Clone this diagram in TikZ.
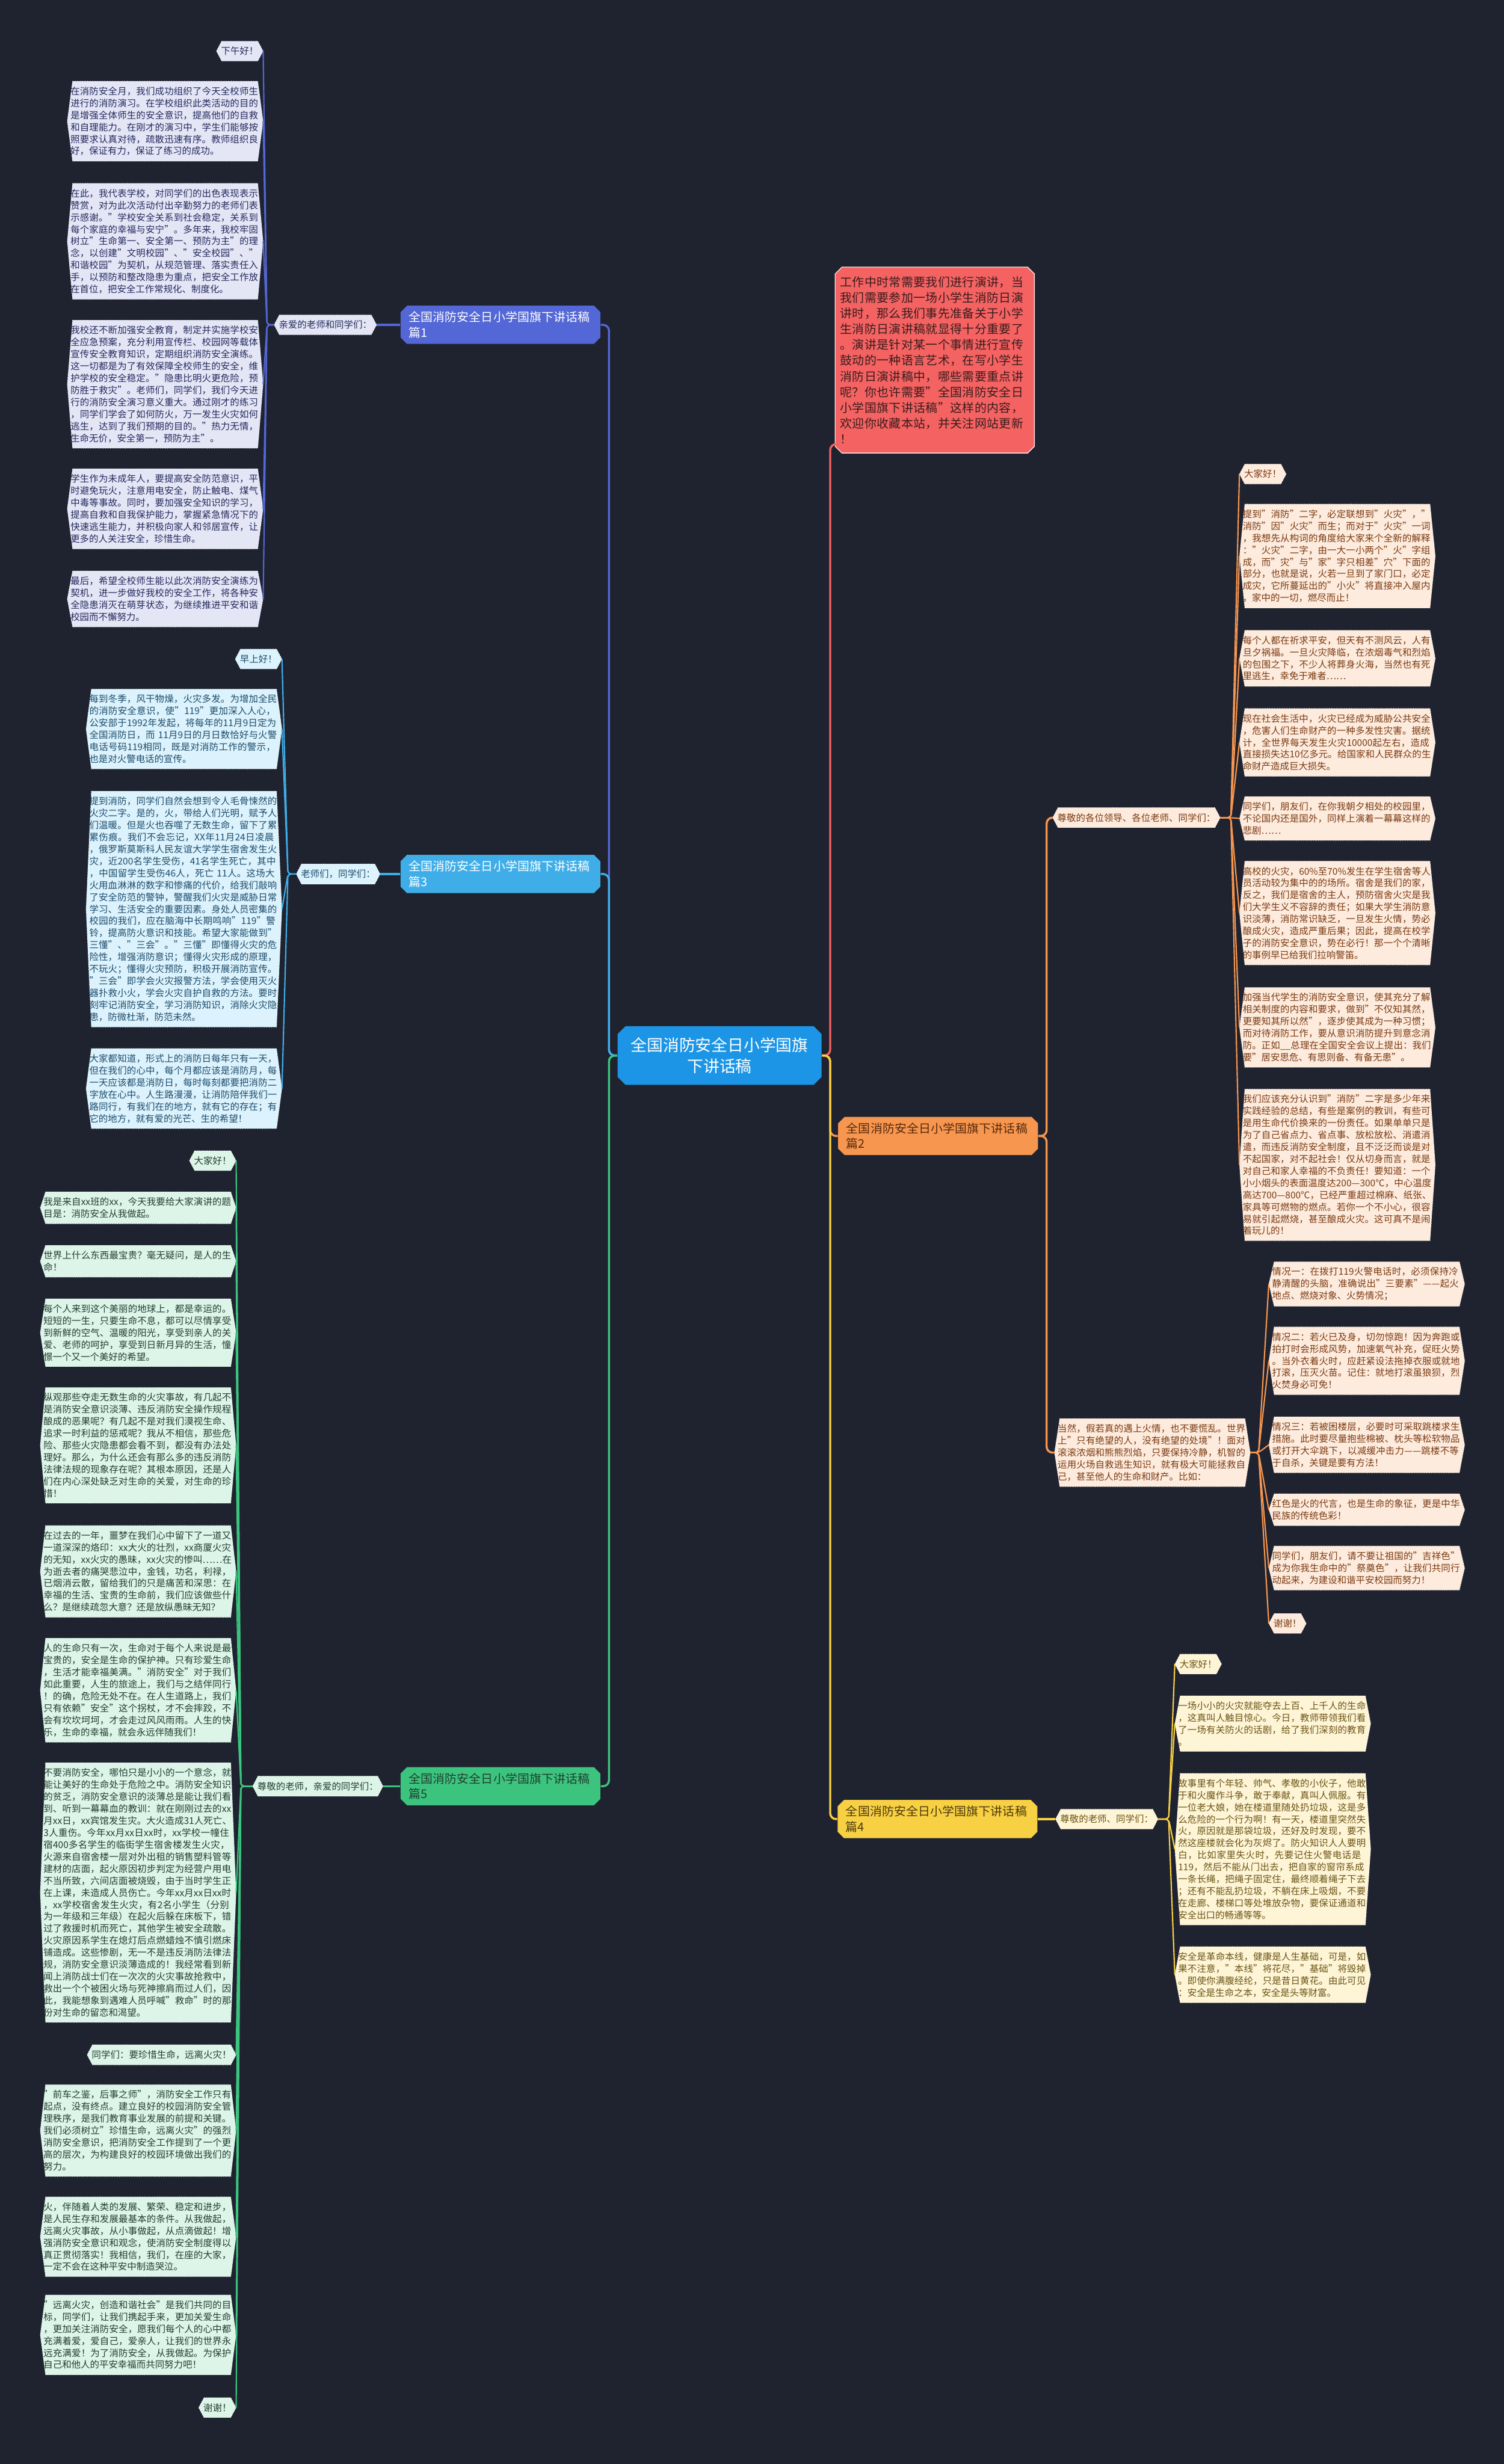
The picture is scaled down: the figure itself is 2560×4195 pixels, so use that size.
\documentclass[tikz,border=0pt]{standalone}
\usepackage{fontspec}
\setmainfont{Noto Sans CJK SC}
\XeTeXlinebreaklocale "zh"
\XeTeXlinebreakskip=0pt plus 1pt
% break anywhere between CJK characters and punctuation, as the reference does
\newXeTeXintercharclass\cjkcls
\makeatletter
\count@="3000
\loop \XeTeXcharclass\count@=\cjkcls \ifnum\count@<"303F \advance\count@\@ne \repeat
\count@="4E00
\loop \XeTeXcharclass\count@=\cjkcls \ifnum\count@<"9FFF \advance\count@\@ne \repeat
\count@="FF01
\loop \XeTeXcharclass\count@=\cjkcls \ifnum\count@<"FF5E \advance\count@\@ne \repeat
\makeatother
\XeTeXcharclass"2014=\cjkcls
\XeTeXcharclass"2026=\cjkcls
\XeTeXinterchartoks\cjkcls\cjkcls={\hskip0pt plus 0.5pt\relax}
\XeTeXinterchartoks 0 \cjkcls={\hskip0pt plus 0.5pt\relax}
\XeTeXinterchartoks\cjkcls 0={\hskip0pt plus 0.5pt\relax}
\newcommand{\cjkwrap}{\XeTeXinterchartokenstate=1\relax}
\usetikzlibrary{positioning}
\usetikzlibrary{shapes.misc}
\usetikzlibrary{backgrounds}

\definecolor{canvas}{HTML}{1F2330}
\definecolor{rootblue}{HTML}{1C95E6}
\definecolor{introred}{HTML}{F46262}
\definecolor{introink}{HTML}{3A1C1C}
\definecolor{line1}{HTML}{5467D6}
\definecolor{paper1}{HTML}{E4E6F6}
\definecolor{ink1}{HTML}{252A5C}
\definecolor{line3}{HTML}{3FAEE8}
\definecolor{paper3}{HTML}{DCF2FC}
\definecolor{ink3}{HTML}{1D4C6C}
\definecolor{line5}{HTML}{3CC47E}
\definecolor{paper5}{HTML}{DDF4E8}
\definecolor{ink5}{HTML}{213F30}
\definecolor{line2}{HTML}{F7964F}
\definecolor{paper2}{HTML}{FDEBDD}
\definecolor{ink2}{HTML}{7B3A12}
\definecolor{line4}{HTML}{F8D043}
\definecolor{paper4}{HTML}{FEF5D7}
\definecolor{ink4}{HTML}{6B5314}

\tikzstyle{root}=[chamfered rectangle, chamfered rectangle xsep=0.07cm, chamfered rectangle ysep=0.065cm, inner xsep=0.14cm, inner ysep=0.13cm, fill=rootblue, text=white, text width=3.05cm, align=flush center, font=\fontsize{7.8pt}{10pt}\selectfont]
\tikzstyle{intro}=[chamfered rectangle, chamfered rectangle xsep=0.055cm, chamfered rectangle ysep=0.06cm, inner xsep=0.03cm, inner ysep=0.1cm, fill=introred, draw=white!80!introred, line width=0.4pt, text=introink, text width=3.22cm, align=left, font=\fontsize{5.8pt}{7.6pt}\selectfont\cjkwrap]
\tikzstyle{topic}=[chamfered rectangle, chamfered rectangle xsep=0.06cm, chamfered rectangle ysep=0.05cm, inner xsep=0.08cm, inner ysep=0.05cm, text width=3.12cm, align=left, font=\fontsize{5.8pt}{7.4pt}\selectfont\cjkwrap]
\tikzstyle{leaf}=[text width=3.22cm, align=left, inner xsep=0.05cm, inner ysep=0.09cm, font=\fontsize{4.5pt}{5.8pt}\selectfont\cjkwrap]
\tikzstyle{greet}=[inner xsep=0.075cm, inner ysep=0.09cm, font=\fontsize{4.5pt}{5.8pt}\selectfont]
\tikzstyle{link}=[line width=0.035cm, rounded corners=0.1cm]
\tikzstyle{twig}=[line width=0.022cm, rounded corners=0.06cm]

% hexagon behind a leaf, tips at west and east
\newcommand{\tipw}{0.09cm}
\newcommand{\hexfill}[2]{%
  \filldraw[fill=#2, draw=white, densely dotted, line width=0.2pt]
    ([xshift=\tipw]#1.north west) -- ([xshift=-\tipw]#1.north east) -- (#1.east)
    -- ([xshift=-\tipw]#1.south east) -- ([xshift=\tipw]#1.south west) -- (#1.west) -- cycle;}

\begin{document}
\begin{tikzpicture}[x=0.01cm, y=-0.01cm]
  \useasboundingbox (0,0) rectangle (2560,4195);

  \node[root] (root) at (1225,1797) {全国消防安全日小学国旗\\下讲话稿};
  \node[intro, anchor=north west] (intro) at (1427,460) {工作中时常需要我们进行演讲，当我们需要参加一场小学生消防日演讲时，那么我们事先准备关于小学生消防日演讲稿就显得十分重要了。演讲是针对某一个事情进行宣传鼓动的一种语言艺术，在写小学生消防日演讲稿中，哪些需要重点讲呢？你也许需要"全国消防安全日小学国旗下讲话稿"这样的内容，欢迎你收藏本站，并关注网站更新！};

  % branch nodes
  \node[topic, fill=line1, text=white] (b1) at (852,553) {全国消防安全日小学国旗下讲话稿篇1};
  \node[topic, fill=line3, text=white] (b3) at (852,1488) {全国消防安全日小学国旗下讲话稿篇3};
  \node[topic, fill=line5, text=ink5] (b5) at (852,3041) {全国消防安全日小学国旗下讲话稿篇5};
  \node[topic, fill=line2, text=ink2!70!black] (b2) at (1597,1934) {全国消防安全日小学国旗下讲话稿篇2};
  \node[topic, fill=line4, text=ink4!70!black] (b4) at (1596,3097) {全国消防安全日小学国旗下讲话稿篇4};

  % salutations
  \node[greet, text=ink1, left=0.4cm of b1] (lab1) {亲爱的老师和同学们：};
  \node[greet, text=ink3, left=0.34cm of b3] (lab3) {老师们，同学们：};
  \node[greet, text=ink5, left=0.29cm of b5] (lab5) {尊敬的老师，亲爱的同学们：};
  \node[greet, text=ink2, anchor=west] (lab2) at (1792,1392) {尊敬的各位领导、各位老师、同学们：};
  \node[greet, text=ink4, right=0.3cm of b4] (lab4) {尊敬的老师、同学们：};

  % 篇1
  \node[greet, text=ink1, anchor=north east] (hi1) at (448,70) {下午好！};
  \node[leaf, text=ink1, anchor=north east] (l1a) at (448,138) {在消防安全月，我们成功组织了今天全校师生进行的消防演习。在学校组织此类活动的目的是增强全体师生的安全意识，提高他们的自救和自理能力。在刚才的演习中，学生们能够按照要求认真对待，疏散迅速有序。教师组织良好，保证有力，保证了练习的成功。};
  \node[leaf, text=ink1, anchor=north east] (l1b) at (448,312) {在此，我代表学校，对同学们的出色表现表示赞赏，对为此次活动付出辛勤努力的老师们表示感谢。"学校安全关系到社会稳定，关系到每个家庭的幸福与安宁"。多年来，我校牢固树立"生命第一、安全第一、预防为主"的理念，以创建"文明校园"、"安全校园"、"和谐校园"为契机，从规范管理、落实责任入手，以预防和整改隐患为重点，把安全工作放在首位，把安全工作常规化、制度化。};
  \node[leaf, text=ink1, anchor=north east] (l1c) at (448,545) {我校还不断加强安全教育，制定并实施学校安全应急预案，充分利用宣传栏、校园网等载体宣传安全教育知识，定期组织消防安全演练。这一切都是为了有效保障全校师生的安全，维护学校的安全稳定。"隐患比明火更危险，预防胜于救灾"。老师们，同学们，我们今天进行的消防安全演习意义重大。通过刚才的练习，同学们学会了如何防火，万一发生火灾如何逃生，达到了我们预期的目的。"热力无情，生命无价，安全第一，预防为主"。};
  \node[leaf, text=ink1, anchor=north east] (l1d) at (448,798) {学生作为未成年人，要提高安全防范意识，平时避免玩火，注意用电安全，防止触电、煤气中毒等事故。同时，要加强安全知识的学习，提高自救和自我保护能力，掌握紧急情况下的快速逃生能力，并积极向家人和邻居宣传，让更多的人关注安全，珍惜生命。};
  \node[leaf, text=ink1, anchor=north east] (l1e) at (448,972) {最后，希望全校师生能以此次消防安全演练为契机，进一步做好我校的安全工作，将各种安全隐患消灭在萌芽状态，为继续推进平安和谐校园而不懈努力。};

  % 篇3
  \node[greet, text=ink3, anchor=north east] (hi3) at (480,1105) {早上好！};
  \node[leaf, text=ink3, anchor=north east] (l3a) at (480,1173) {每到冬季，风干物燥，火灾多发。为增加全民的消防安全意识，使"119"更加深入人心，公安部于1992年发起，将每年的11月9日定为全国消防日，而 11月9日的月日数恰好与火警电话号码119相同，既是对消防工作的警示，也是对火警电话的宣传。};
  \node[leaf, text=ink3, anchor=north east] (l3b) at (480,1347) {提到消防，同学们自然会想到令人毛骨悚然的火灾二字。是的，火，带给人们光明，赋予人们温暖。但是火也吞噬了无数生命，留下了累累伤痕。我们不会忘记，XX年11月24日凌晨，俄罗斯莫斯科人民友谊大学学生宿舍发生火灾，近200名学生受伤，41名学生死亡，其中，中国留学生受伤46人，死亡 11人。这场大火用血淋淋的数字和惨痛的代价，给我们敲响了安全防范的警钟，警醒我们火灾是威胁日常学习、生活安全的重要因素。身处人员密集的校园的我们，应在脑海中长期鸣响"119"警铃，提高防火意识和技能。希望大家能做到"三懂"、"三会"。"三懂"即懂得火灾的危险性，增强消防意识；懂得火灾形成的原理，不玩火；懂得火灾预防，积极开展消防宣传。"三会"即学会火灾报警方法，学会使用灭火器扑救小火，学会火灾自护自救的方法。要时刻牢记消防安全，学习消防知识，消除火灾隐患，防微杜渐，防范未然。};
  \node[leaf, text=ink3, anchor=north east] (l3c) at (480,1785) {大家都知道，形式上的消防日每年只有一天，但在我们的心中，每个月都应该是消防月，每一天应该都是消防日，每时每刻都要把消防二字放在心中。人生路漫漫，让消防陪伴我们一路同行，有我们在的地方，就有它的存在；有它的地方，就有爱的光芒、生的希望！};

  % 篇5
  \node[greet, text=ink5, anchor=north east] (hi5) at (402,1959) {大家好！};
  \node[leaf, text=ink5, anchor=north east] (l5a) at (402,2029) {我是来自xx班的xx，今天我要给大家演讲的题目是：消防安全从我做起。};
  \node[leaf, text=ink5, anchor=north east] (l5b) at (402,2120) {世界上什么东西最宝贵？毫无疑问，是人的生命！};
  \node[leaf, text=ink5, anchor=north east] (l5c) at (402,2211) {每个人来到这个美丽的地球上，都是幸运的。短短的一生，只要生命不息，都可以尽情享受到新鲜的空气、温暖的阳光，享受到亲人的关爱、老师的呵护，享受到日新月异的生活，憧憬一个又一个美好的希望。};
  \node[leaf, text=ink5, anchor=north east] (l5d) at (402,2362) {纵观那些夺走无数生命的火灾事故，有几起不是消防安全意识淡薄、违反消防安全操作规程酿成的恶果呢？有几起不是对我们漠视生命、追求一时利益的惩戒呢？我从不相信，那些危险、那些火灾隐患都会看不到，都没有办法处理好。那么，为什么还会有那么多的违反消防法律法规的现象存在呢？其根本原因，还是人们在内心深处缺乏对生命的关爱，对生命的珍惜！};
  \node[leaf, text=ink5, anchor=north east] (l5e) at (402,2597) {在过去的一年，噩梦在我们心中留下了一道又一道深深的烙印：xx大火的壮烈，xx商厦火灾的无知，xx火灾的愚昧，xx火灾的惨叫……在为逝去者的痛哭悲泣中，金钱，功名，利禄，已烟消云散，留给我们的只是痛苦和深思：在幸福的生活、宝贵的生命前，我们应该做些什么？是继续疏忽大意？还是放纵愚昧无知？};
  \node[leaf, text=ink5, anchor=north east] (l5f) at (402,2789) {人的生命只有一次，生命对于每个人来说是最宝贵的，安全是生命的保护神。只有珍爱生命，生活才能幸福美满。"消防安全"对于我们如此重要，人生的旅途上，我们与之结伴同行！的确，危险无处不在。在人生道路上，我们只有依赖"安全"这个拐杖，才不会摔跤，不会有坎坎坷坷，才会走过风风雨雨。人生的快乐，生命的幸福，就会永远伴随我们！};
  \node[leaf, text=ink5, anchor=north east] (l5g) at (402,3001) {不要消防安全，哪怕只是小小的一个意念，就能让美好的生命处于危险之中。消防安全知识的贫乏，消防安全意识的淡薄总是能让我们看到、听到一幕幕血的教训：就在刚刚过去的xx月xx日，xx宾馆发生灾。大火造成31人死亡、3人重伤。今年xx月xx日xx时，xx学校一幢住宿400多名学生的临街学生宿舍楼发生火灾，火源来自宿舍楼一层对外出租的销售塑料管等建材的店面，起火原因初步判定为经营户用电不当所致，六间店面被烧毁，由于当时学生正在上课，未造成人员伤亡。今年xx月xx日xx时，xx学校宿舍发生火灾，有2名小学生（分别为一年级和三年级）在起火后躲在床板下，错过了救援时机而死亡，其他学生被安全疏散。火灾原因系学生在熄灯后点燃蜡烛不慎引燃床铺造成。这些惨剧，无一不是违反消防法律法规，消防安全意识淡薄造成的！我经常看到新闻上消防战士们在一次次的火灾事故抢救中，救出一个个被困火场与死神擦肩而过人们，因此，我能想象到遇难人员呼喊"救命"时的那份对生命的留恋和渴望。};
  \node[greet, text=ink5, anchor=north east] (call5) at (402,3481) {同学们：要珍惜生命，远离火灾！};
  \node[leaf, text=ink5, anchor=north east] (l5h) at (402,3549) {"前车之鉴，后事之师"，消防安全工作只有起点，没有终点。建立良好的校园消防安全管理秩序，是我们教育事业发展的前提和关键。我们必须树立"珍惜生命，远离火灾"的强烈消防安全意识，把消防安全工作提到了一个更高的层次，为构建良好的校园环境做出我们的努力。};
  \node[leaf, text=ink5, anchor=north east] (l5i) at (402,3740) {火，伴随着人类的发展、繁荣、稳定和进步，是人民生存和发展最基本的条件。从我做起，远离火灾事故，从小事做起，从点滴做起！增强消防安全意识和观念，使消防安全制度得以真正贯彻落实！我相信，我们，在座的大家，一定不会在这种平安中制造哭泣。};
  \node[leaf, text=ink5, anchor=north east] (l5j) at (402,3907) {"远离火灾，创造和谐社会"是我们共同的目标，同学们，让我们携起手来，更加关爱生命，更加关注消防安全，愿我们每个人的心中都充满着爱，爱自己，爱亲人，让我们的世界永远充满爱！为了消防安全，从我做起。为保护自己和他人的平安幸福而共同努力吧！};
  \node[greet, text=ink5, anchor=north east] (bye5) at (402,4082) {谢谢！};

  % 篇2
  \node[greet, text=ink2, anchor=north west] (hi2) at (2110,790) {大家好！};
  \node[leaf, text=ink2, anchor=north west] (l2a) at (2110,858) {提到"消防"二字，必定联想到"火灾"，"消防"因"火灾"而生；而对于"火灾"一词，我想先从构词的角度给大家来个全新的解释："火灾"二字，由一大一小两个"火"字组成，而"灾"与"家"字只相差"穴"下面的部分，也就是说，火若一旦到了家门口，必定成灾，它所蔓延出的"小火"将直接冲入屋内，家中的一切，燃尽而止！};
  \node[leaf, text=ink2, anchor=north west] (l2b) at (2110,1073) {每个人都在祈求平安，但天有不测风云，人有旦夕祸福。一旦火灾降临，在浓烟毒气和烈焰的包围之下，不少人将葬身火海，当然也有死里逃生，幸免于难者……};
  \node[leaf, text=ink2, anchor=north west] (l2c) at (2110,1206) {现在社会生活中，火灾已经成为威胁公共安全，危害人们生命财产的一种多发性灾害。据统计，全世界每天发生火灾10000起左右，造成直接损失达10亿多元。给国家和人民群众的生命财产造成巨大损失。};
  \node[leaf, text=ink2, anchor=north west] (l2d) at (2110,1356) {同学们，朋友们，在你我朝夕相处的校园里，不论国内还是国外，同样上演着一幕幕这样的悲剧……};
  \node[leaf, text=ink2, anchor=north west] (l2e) at (2110,1466) {高校的火灾，60\%至70\%发生在学生宿舍等人员活动较为集中的的场所。宿舍是我们的家，反之，我们是宿舍的主人，预防宿舍火灾是我们大学生义不容辞的责任；如果大学生消防意识淡薄，消防常识缺乏，一旦发生火情，势必酿成火灾，造成严重后果；因此，提高在校学子的消防安全意识，势在必行！那一个个清晰的事例早已给我们拉响警笛。};
  \node[leaf, text=ink2, anchor=north west] (l2f) at (2110,1681) {加强当代学生的消防安全意识，使其充分了解相关制度的内容和要求，做到"不仅知其然，更要知其所以然"，逐步使其成为一种习惯；而对待消防工作，要从意识消防提升到意念消防。正如\_\_总理在全国安全会议上提出：我们要"居安思危、有思则备、有备无患"。};
  \node[leaf, text=ink2, anchor=north west] (l2g) at (2110,1854) {我们应该充分认识到"消防"二字是多少年来实践经验的总结，有些是案例的教训，有些可是用生命代价换来的一份责任。如果单单只是为了自己省点力、省点事、放松放松、消遣消遣，而违反消防安全制度，且不泛泛而谈是对不起国家，对不起社会！仅从切身而言，就是对自己和家人幸福的不负责任！要知道：一个小小烟头的表面温度达200—300℃，中心温度高达700—800℃，已经严重超过棉麻、纸张、家具等可燃物的燃点。若你一个不小心，很容易就引起燃烧，甚至酿成火灾。这可真不是闹着玩儿的！};
  \node[leaf, text=ink2, anchor=north west] (mid2) at (1795,2415) {当然，假若真的遇上火情，也不要慌乱。世界上"只有绝望的人，没有绝望的处境"！面对滚滚浓烟和熊熊烈焰，只要保持冷静，机智的运用火场自救逃生知识，就有极大可能拯救自己，甚至他人的生命和财产。比如：};
  \node[leaf, text=ink2, anchor=north west] (m2a) at (2160,2148) {情况一：在拨打119火警电话时，必须保持冷静清醒的头脑，准确说出"三要素"——起火地点、燃烧对象、火势情况；};
  \node[leaf, text=ink2, anchor=north west] (m2b) at (2160,2259) {情况二：若火已及身，切勿惊跑！因为奔跑或拍打时会形成风势，加速氧气补充，促旺火势。当外衣着火时，应赶紧设法拖掉衣服或就地打滚，压灭火苗。记住：就地打滚虽狼狈，烈火焚身必可免！};
  \node[leaf, text=ink2, anchor=north west] (m2c) at (2160,2412) {情况三：若被困楼层，必要时可采取跳楼求生措施。此时要尽量抱些棉被、枕头等松软物品或打开大伞跳下，以减缓冲击力——跳楼不等于自杀，关键是要有方法！};
  \node[leaf, text=ink2, anchor=north west] (m2d) at (2160,2543) {红色是火的代言，也是生命的象征，更是中华民族的传统色彩！};
  \node[leaf, text=ink2, anchor=north west] (m2e) at (2160,2632) {同学们，朋友们，请不要让祖国的"吉祥色"成为你我生命中的"祭奠色"，让我们共同行动起来，为建设和谐平安校园而努力！};
  \node[greet, text=ink2, anchor=north west] (bye2) at (2160,2747) {谢谢！};

  % 篇4
  \node[greet, text=ink4, anchor=north west] (hi4) at (2000,2816) {大家好！};
  \node[leaf, text=ink4, anchor=north west] (l4a) at (2000,2887) {一场小小的火灾就能夺去上百、上千人的生命，这真叫人触目惊心。今日，教师带领我们看了一场有关防火的话剧，给了我们深刻的教育。};
  \node[leaf, text=ink4, anchor=north west] (l4b) at (2000,3019) {故事里有个年轻、帅气、孝敬的小伙子，他敢于和火魔作斗争，敢于奉献，真叫人佩服。有一位老大娘，她在楼道里随处扔垃圾，这是多么危险的一个行为啊！有一天，楼道里突然失火，原因就是那袋垃圾，还好及时发现，要不然这座楼就会化为灰烬了。防火知识人人要明白，比如家里失火时，先要记住火警电话是119，然后不能从门出去，把自家的窗帘系成一条长绳，把绳子固定住，最终顺着绳子下去；还有不能乱扔垃圾，不躺在床上吸烟，不要在走廊、楼梯口等处堆放杂物，要保证通道和安全出口的畅通等等。};
  \node[leaf, text=ink4, anchor=north west] (l4c) at (2000,3314) {安全是革命本线，健康是人生基础，可是，如果不注意，"本线"将花尽，"基础"将毁掉。即使你满腹经纶，只是昔日黄花。由此可见：安全是生命之本，安全是头等财富。};

  % connectors from the root
  \draw[link, line1] (root.west) -- ++(-14,0) |- (b1.east);
  \draw[link, line3] (root.west) -- ++(-14,0) |- (b3.east);
  \draw[link, line5] (root.west) -- ++(-14,0) |- (b5.east);
  \draw[link, introred] (root.east) -- ++(14,0) |- ([yshift=0.1cm]intro.south west);
  \draw[link, line2] (root.east) -- ++(14,0) |- (b2.west);
  \draw[link, line4] (root.east) -- ++(14,0) |- (b4.west);

  \draw[link, line1] (b1.west) -- (lab1.east);
  \draw[link, line3] (b3.west) -- (lab3.east);
  \draw[link, line5] (b5.west) -- (lab5.east);
  \draw[link, line2] (b2.east) -- ++(14,0) |- (lab2.west);
  \draw[link, line2] (b2.east) -- ++(14,0) |- (mid2.west);
  \draw[link, line4] (b4.east) -- (lab4.west);

  \foreach \n in {hi1,l1a,l1b,l1c,l1d,l1e}
    \draw[twig, line1] (lab1.west) -- ++(-12,0) -- (\n.east);
  \foreach \n in {hi3,l3a,l3b,l3c}
    \draw[twig, line3] (lab3.west) -- ++(-14,0) -- (\n.east);
  \foreach \n in {hi5,l5a,l5b,l5c,l5d,l5e,l5f,l5g,call5,l5h,l5i,l5j,bye5}
    \draw[twig, line5] (lab5.west) -- ++(-20,0) -- (\n.east);
  \foreach \n in {hi2,l2a,l2b,l2c,l2d,l2e,l2f,l2g}
    \draw[twig, line2] (lab2.east) -- ++(18,0) -- (\n.west);
  \foreach \n in {m2a,m2b,m2c,m2d,m2e,bye2}
    \draw[twig, line2] (mid2.east) -- ++(14,0) -- (\n.west);
  \foreach \n in {hi4,l4a,l4b,l4c}
    \draw[twig, line4] (lab4.east) -- ++(18,0) -- (\n.west);

  \begin{scope}[on background layer]
    \fill[canvas] (0,0) rectangle (2560,4195);
    \foreach \n in {lab1,hi1,l1a,l1b,l1c,l1d,l1e} {\hexfill{\n}{paper1}}
    \foreach \n in {lab3,hi3,l3a,l3b,l3c} {\hexfill{\n}{paper3}}
    \foreach \n in {lab5,hi5,l5a,l5b,l5c,l5d,l5e,l5f,l5g,call5,l5h,l5i,l5j,bye5} {\hexfill{\n}{paper5}}
    \foreach \n in {lab2,hi2,l2a,l2b,l2c,l2d,l2e,l2f,l2g,mid2,m2a,m2b,m2c,m2d,m2e,bye2} {\hexfill{\n}{paper2}}
    \foreach \n in {lab4,hi4,l4a,l4b,l4c} {\hexfill{\n}{paper4}}
  \end{scope}
\end{tikzpicture}
\end{document}
